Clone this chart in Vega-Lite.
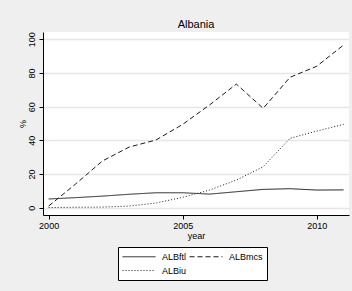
{
  "$schema": "https://vega.github.io/schema/vega-lite/v6.json",
  "width": 306,
  "height": 183,
  "autosize": {"type": "none"},
  "padding": {"left": 43, "top": 32, "right": 3, "bottom": 76},
  "background": "#efefef",
  "title": {"text": "Albania", "font": "Liberation Sans", "fontSize": 11, "fontWeight": "normal", "color": "#000000", "offset": 2},
  "config": {
    "view": {"fill": "#ffffff", "stroke": null},
    "axis": {"labelFont": "Liberation Sans", "titleFont": "Liberation Sans", "labelColor": "#000000", "titleColor": "#000000", "labelFontSize": 9, "titleFontSize": 9, "titleFontWeight": "normal", "domainColor": "#000000", "tickColor": "#000000", "tickSize": 4, "domainWidth": 1},
    "legend": {"labelFont": "Liberation Sans", "labelFontSize": 9, "labelColor": "#000000"}
  },
  "data": {"values": [
    {"year": 2000, "series": "ALBftl", "value": 5.2},
    {"year": 2001, "series": "ALBftl", "value": 6.0},
    {"year": 2002, "series": "ALBftl", "value": 6.9},
    {"year": 2003, "series": "ALBftl", "value": 8.0},
    {"year": 2004, "series": "ALBftl", "value": 8.9},
    {"year": 2005, "series": "ALBftl", "value": 8.9},
    {"year": 2006, "series": "ALBftl", "value": 8.1},
    {"year": 2007, "series": "ALBftl", "value": 9.5},
    {"year": 2008, "series": "ALBftl", "value": 10.9},
    {"year": 2009, "series": "ALBftl", "value": 11.3},
    {"year": 2010, "series": "ALBftl", "value": 10.5},
    {"year": 2011, "series": "ALBftl", "value": 10.6},
    {"year": 2000, "series": "ALBmcs", "value": 1.0},
    {"year": 2001, "series": "ALBmcs", "value": 14.0},
    {"year": 2002, "series": "ALBmcs", "value": 27.7},
    {"year": 2003, "series": "ALBmcs", "value": 36.0},
    {"year": 2004, "series": "ALBmcs", "value": 40.2},
    {"year": 2005, "series": "ALBmcs", "value": 49.5},
    {"year": 2006, "series": "ALBmcs", "value": 61.0},
    {"year": 2007, "series": "ALBmcs", "value": 73.4},
    {"year": 2008, "series": "ALBmcs", "value": 59.0},
    {"year": 2009, "series": "ALBmcs", "value": 77.4},
    {"year": 2010, "series": "ALBmcs", "value": 84.0},
    {"year": 2011, "series": "ALBmcs", "value": 96.6},
    {"year": 2000, "series": "ALBiu", "value": 0.1},
    {"year": 2001, "series": "ALBiu", "value": 0.3},
    {"year": 2002, "series": "ALBiu", "value": 0.4},
    {"year": 2003, "series": "ALBiu", "value": 1.0},
    {"year": 2004, "series": "ALBiu", "value": 2.8},
    {"year": 2005, "series": "ALBiu", "value": 6.2},
    {"year": 2006, "series": "ALBiu", "value": 10.5},
    {"year": 2007, "series": "ALBiu", "value": 16.4},
    {"year": 2008, "series": "ALBiu", "value": 24.3},
    {"year": 2009, "series": "ALBiu", "value": 41.2},
    {"year": 2010, "series": "ALBiu", "value": 45.5},
    {"year": 2011, "series": "ALBiu", "value": 49.5}
  ]},
  "mark": {"type": "line", "color": "#1a1a1a", "strokeWidth": 1},
  "encoding": {
    "x": {"field": "year", "type": "quantitative",
      "scale": {"domain": [1999.79, 2011.2], "nice": false, "zero": false},
      "axis": {"values": [2000, 2005, 2010], "format": "d", "grid": false, "title": "year", "labelPadding": 2, "titlePadding": 1}},
    "y": {"field": "value", "type": "quantitative",
      "scale": {"domain": [-4.3, 104.3], "nice": false, "zero": false},
      "axis": {"values": [0, 20, 40, 60, 80, 100], "grid": true, "gridColor": "#e6e6e6", "gridWidth": 1.5, "labelAngle": -90, "labelPadding": 3, "title": "%", "titlePadding": 0}},
    "strokeDash": {"field": "series", "type": "nominal",
      "scale": {"domain": ["ALBftl", "ALBmcs", "ALBiu"], "range": [[1, 0], [5, 3], [1, 2]]},
      "legend": {"title": null, "orient": "none", "legendX": 75, "legendY": 215, "direction": "horizontal", "columns": 2, "symbolType": "M-1,0H5.6", "symbolSize": 100, "symbolStrokeColor": "#1a1a1a", "symbolStrokeWidth": 1, "labelOffset": 29, "columnPadding": 0, "rowPadding": 3, "padding": 4, "strokeColor": "#000000", "fillColor": "#ffffff"}}
  }
}
